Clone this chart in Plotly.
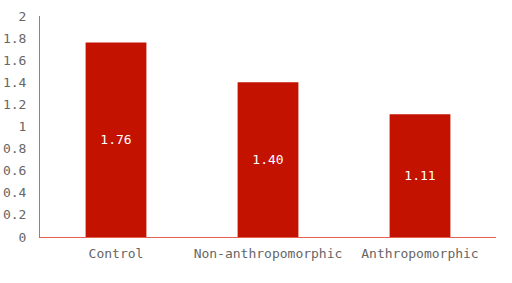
import plotly.graph_objects as go

categories = ["Control", "Non-anthropomorphic", "Anthropomorphic"]
values = [1.76, 1.40, 1.11]
labels = ["1.76", "1.40", "1.11"]
yticks = [0, 0.2, 0.4, 0.6, 0.8, 1, 1.2, 1.4, 1.6, 1.8, 2]

fig = go.Figure(go.Bar(
    x=categories, y=values, text=labels, textposition="inside",
    insidetextanchor="middle",
    textfont=dict(color="white", size=13, family="DejaVu Sans Mono"),
    marker=dict(color="#c41200", line=dict(width=0)), width=0.4,
))
fig.update_layout(
    width=512, height=283, margin=dict(l=40, r=16, t=16, b=46),
    plot_bgcolor="white", paper_bgcolor="white", showlegend=False,
    font=dict(family="DejaVu Sans Mono", size=13, color="#666666"),
    uniformtext=dict(mode=False),
)
fig.update_yaxes(range=[0, 2], tickvals=yticks, ticktext=[f"{v:g}" for v in yticks],
                 showgrid=False, zeroline=False, showline=True, linecolor="#e5604f",
                 linewidth=1, ticks="", ticklabelstandoff=10, automargin=False,
                 tickfont=dict(size=13))
fig.update_xaxes(showgrid=False, showline=True, linecolor="#e5604f", linewidth=1,
                 ticks="", ticklabelstandoff=4, automargin=False)
fig.write_html("out.html")
